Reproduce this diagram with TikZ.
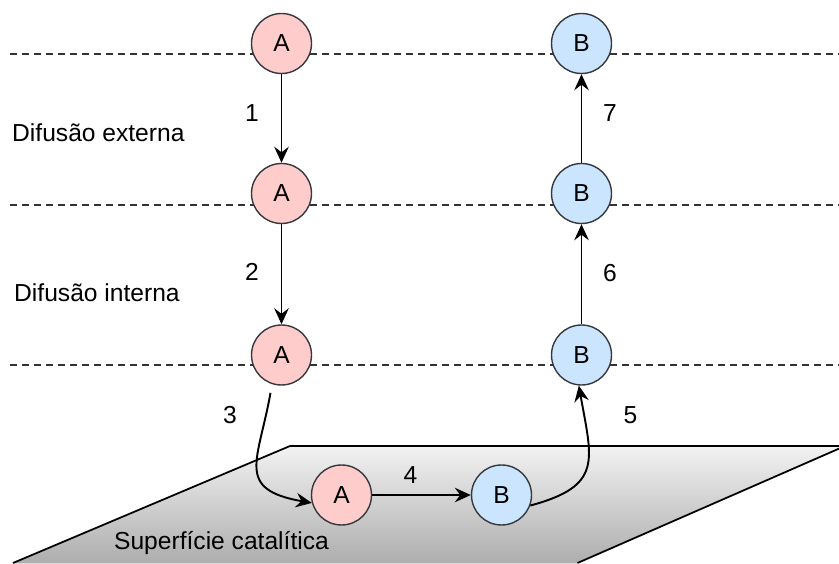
\documentclass[tikz,border=0pt]{standalone}
\usepackage{fontspec}
\setmainfont{Liberation Sans}
\usetikzlibrary{arrows.meta,shadings}
\definecolor{molpink}{HTML}{FFCCCC}
\definecolor{molblue}{HTML}{CCE5FF}
\definecolor{molline}{HTML}{36393D}
\tikzset{
  molA/.style={circle,draw=molline,fill=molpink,line width=.8pt,minimum size=1.2cm,inner sep=0pt,font=\fontsize{14}{16}\selectfont},
  molB/.style={molA,fill=molblue},
  steparr/.style={-{Stealth[length=3.2mm,width=2.9mm,inset=1.1mm]},line width=1.1pt},
  stepnum/.style={font=\fontsize{14}{16}\selectfont},
  zonetext/.style={anchor=west,font=\fontsize{14}{16}\selectfont},
  levelline/.style={dash pattern=on 0.14cm off 0.1cm,line width=.75pt,draw=black!80},
  surface/.style={top color=black!5,bottom color=black!32,draw=none}
}

\begin{document}
\begin{tikzpicture}[x=1cm,y=1cm]
  \useasboundingbox (0,0) rectangle (16.78,11.26);

  % catalytic surface
  \fill[surface] (0.26,0) -- (5.8,2.34) -- (16.9,2.34) -- (11.55,0) -- cycle;
  \draw[line width=1pt] (0.26,0) -- (5.8,2.34) -- (16.9,2.34) -- (11.55,0);
  \node[stepnum] (surf) at (4.43,0.40) {Superfície catalítica};

  % levels
  \foreach \y in {10.18,7.16,3.96}
    \draw[levelline] (0.2,\y) -- (16.78,\y);

  \node[zonetext] (ext) at (0.12,8.60) {Difusão externa};
  \node[zonetext] (int) at (0.16,5.40) {Difusão interna};

  % molecules
  \foreach \n/\y in {A1/10.39,A2/7.39,A3/4.16}
    \node[molA] (\n) at (5.63,\y) {A};
  \foreach \n/\y in {B1/10.39,B2/7.39,B3/4.16}
    \node[molB] (\n) at (11.63,\y) {B};
  \node[molA] (A4) at (6.83,1.36) {A};
  \node[molB] (B4) at (10.03,1.36) {B};

  % steps
  \draw[steparr] (A1) -- (A2);
  \draw[steparr] (A2) -- (A3);
  \draw[steparr,shorten <=5pt] (A3.252) to[out=-100,in=170,looseness=1.6] (A4.195);
  \draw[steparr] (A4) -- (B4);
  \draw[steparr] (B4.-20) to[out=15,in=-80,looseness=1.5] (B3.-95);
  \draw[steparr] (B3) -- (B2);
  \draw[steparr] (B2) -- (B1);

  \foreach \n/\x/\y/\t in {n1/5.04/8.99/1,n2/5.04/5.82/2,n3/4.6/2.96/3,n4/8.21/1.76/4,n5/12.61/2.96/5,n6/12.2/5.80/6,n7/12.2/8.99/7}
    \node[stepnum] (\n) at (\x,\y) {\t};
\end{tikzpicture}
\end{document}
